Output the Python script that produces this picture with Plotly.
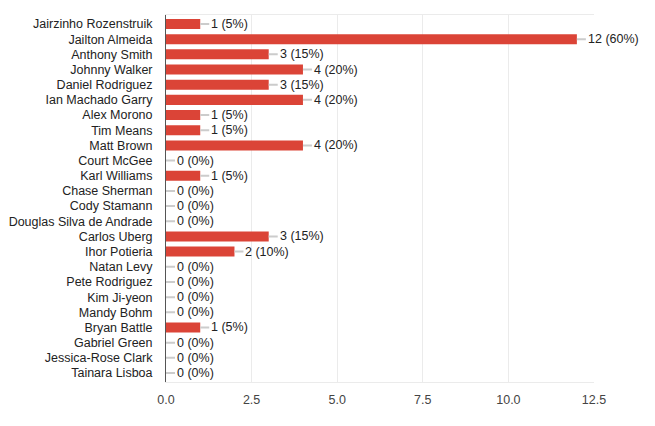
import plotly.graph_objects as go

# Кандидаты и число голосов
fighters = [
    "Jairzinho Rozenstruik", "Jailton Almeida", "Anthony Smith", "Johnny Walker",
    "Daniel Rodriguez", "Ian Machado Garry", "Alex Morono", "Tim Means",
    "Matt Brown", "Court McGee", "Karl Williams", "Chase Sherman",
    "Cody Stamann", "Douglas Silva de Andrade", "Carlos Uberg", "Ihor Potieria",
    "Natan Levy", "Pete Rodriguez", "Kim Ji-yeon", "Mandy Bohm",
    "Bryan Battle", "Gabriel Green", "Jessica-Rose Clark", "Tainara Lisboa",
]
votes = [1, 12, 3, 4, 3, 4, 1, 1, 4, 0, 1, 0, 0, 0, 3, 2, 0, 0, 0, 0, 1, 0, 0, 0]
percents = [5, 60, 15, 20, 15, 20, 5, 5, 20, 0, 5, 0, 0, 0, 15, 10, 0, 0, 0, 0, 5, 0, 0, 0]
x_ticks = [0, 2.5, 5, 7.5, 10, 12.5]

fig = go.Figure(go.Bar(
    x=votes,
    y=fighters,
    orientation="h",
    marker=dict(color="#db4437", line=dict(width=0)),
    hoverinfo="skip",
))

# подписи с серой линией-выноской
for name, v, p in zip(fighters, votes, percents):
    fig.add_annotation(
        x=v, y=name, xref="x", yref="y",
        text=f"{v} ({p}%)",
        showarrow=True, arrowhead=0, arrowwidth=2, arrowcolor="#cccccc",
        ax=9, ay=0, xanchor="left",
        font=dict(size=12.5, color="#222222"),
    )

fig.update_layout(
    width=655,
    height=426,
    margin=dict(l=158, r=69, t=7, b=52),  # страница даёт сдвиг 8px
    plot_bgcolor="white",
    paper_bgcolor="white",
    font=dict(family="Liberation Sans, Arial, sans-serif", size=12.5, color="#222222"),
    bargap=0.34,
    showlegend=False,
    xaxis=dict(
        range=[0, 12.5],
        tickvals=x_ticks,
        tickformat=".1f",
        showgrid=True,
        gridcolor="#ebebeb",
        gridwidth=1,
        zeroline=False,
        showline=True,
        linecolor="#ebebeb",
        mirror=True,
        ticks="",
        ticklabelstandoff=6,
        tickfont=dict(color="#444444"),
        automargin=False,
        fixedrange=True,
    ),
    yaxis=dict(
        categoryorder="array",
        categoryarray=fighters,
        autorange="reversed",
        showline=True,
        linecolor="#555555",
        linewidth=1,
        showgrid=False,
        ticks="",
        ticklabelstandoff=10,
        tickfont=dict(color="#222222"),
        automargin=False,
        fixedrange=True,
    ),
)

fig.write_html("out.html")
